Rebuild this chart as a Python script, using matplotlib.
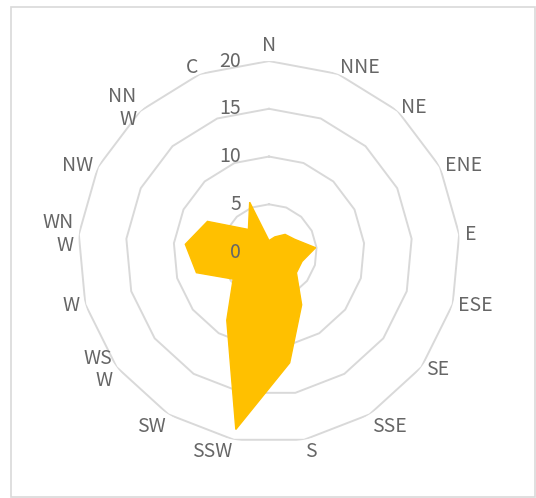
import numpy as np
import matplotlib.pyplot as plt
from matplotlib.patches import Rectangle

# wind directions and frequencies
directions = ["N", "NNE", "NE", "ENE", "E", "ESE", "SE", "SSE", "S",
              "SSW", "SW", "WS\nW", "W", "WN\nW", "NW", "NN\nW", "C"]
values = [1.2, 1.7, 2.5, 3.0, 4.9, 3.6, 3.6, 6.5, 11.8,
          18.9, 8.4, 4.7, 7.9, 8.8, 7.2, 3.2, 5.6]
levels = [0, 5, 10, 15, 20]

plt.rcParams['font.family'] = ['Noto Sans CJK SC', 'DejaVu Sans']
txt_color = '#666666'

fig = plt.figure(figsize=(5.36, 4.98), dpi=100)
fig.patches.append(Rectangle((11 / 536, 0.002), 524 / 536, 1 - 7 / 498 - 0.002,
                             transform=fig.transFigure, fill=False,
                             edgecolor='#d9d9d9', linewidth=1.2))

ax = fig.add_axes([0.1455, 0.1104, 0.7127, 0.767], projection='polar')
ax.set_theta_zero_location('N')
ax.set_theta_direction(-1)

n = len(directions)
angles = np.arange(n) * 2 * np.pi / n
ang_closed = np.append(angles, angles[0])

# polygon gridlines
for lv in levels[1:]:
    ax.plot(ang_closed, [lv] * (n + 1), color='#d9d9d9', linewidth=1.4, zorder=1)

vals_closed = np.append(values, values[0])
ax.fill(ang_closed, vals_closed, color='#ffc000', zorder=2)

ax.set_ylim(0, 20)
ax.grid(False)
ax.spines['polar'].set_visible(False)
ax.set_yticks([])
ax.set_xticks([])

# category labels next to the outer ring vertices, excel-like alignment
for a, lab in zip(angles, directions):
    s, c = np.sin(a), np.cos(a)
    ha = 'center' if abs(s) < 0.1 else ('left' if s > 0 else 'right')
    if c > 0.9:
        va, dy = 'baseline', (7 if abs(s) < 0.1 else 1)
    elif c < -0.8:
        va, dy = 'top', -1
    else:
        va, dy = 'center', 3 * c
    ax.annotate(lab, xy=(a, 20), xytext=(4 * s, dy),
                textcoords='offset points', ha=ha, va=va, color=txt_color,
                fontsize=14, fontweight='light', linespacing=1.1,
                annotation_clip=False)

for lv in levels:
    ax.annotate(str(lv), xy=(0, lv), xytext=(-20, 0), textcoords='offset points',
                ha='right', va='center', color=txt_color, fontsize=14,
                fontweight='light', zorder=3)

fig.savefig('out.png', dpi=100)
